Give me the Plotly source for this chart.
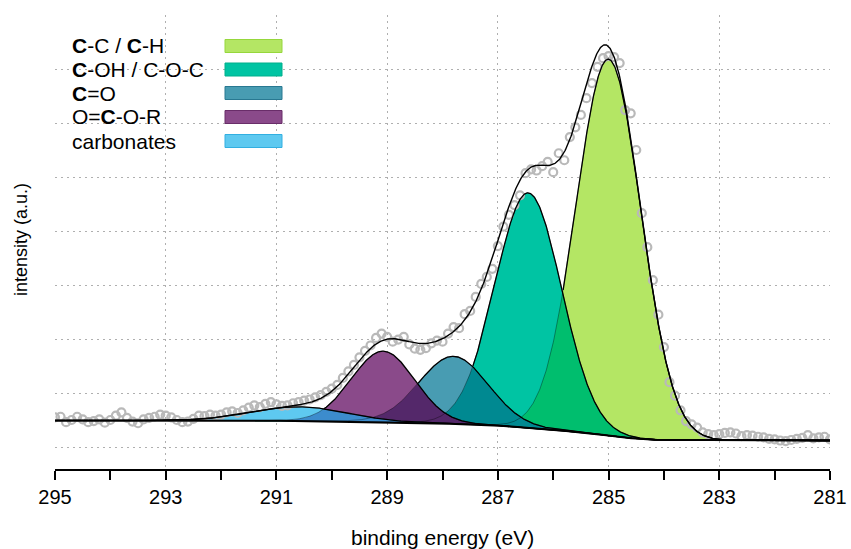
import numpy as np
import plotly.graph_objects as go

# ---------------- data ----------------
energy_start = 295.0
energy_step = -0.1
intensity = [
    0.55, 0.56, 0.46, 0.50, 0.56, 0.51, 0.46, 0.48, 0.51, 0.45,
    0.50, 0.58, 0.64, 0.54, 0.47, 0.44, 0.51, 0.54, 0.56, 0.60,
    0.58, 0.55, 0.50, 0.46, 0.47, 0.52, 0.58, 0.57, 0.60, 0.58,
    0.60, 0.64, 0.66, 0.63, 0.68, 0.73, 0.77, 0.74, 0.80, 0.83,
    0.79, 0.76, 0.77, 0.81, 0.83, 0.86, 0.88, 0.92, 0.96, 1.02,
    1.08, 1.15, 1.28, 1.40, 1.52, 1.66, 1.78, 1.88, 2.02, 2.10,
    2.04, 1.95, 1.99, 2.04, 1.90, 1.82, 1.80, 1.83, 1.92, 1.97,
    1.95, 2.10, 2.22, 2.20, 2.46, 2.52, 2.78, 3.02, 3.15, 3.30,
    3.72, 4.08, 4.30, 4.48, 4.66, 5.07, 5.14, 5.12, 5.20, 5.28,
    5.09, 5.44, 5.31, 5.74, 5.92, 6.15, 6.46, 6.74, 7.04, 7.20,
    7.24, 7.22, 7.11, 6.24, 6.18, 5.50, 4.33, 3.70, 3.09, 2.45,
    1.85, 1.20, 0.95, 0.68, 0.48, 0.42, 0.36, 0.27, 0.24, 0.22,
    0.24, 0.26, 0.27, 0.25, 0.20, 0.22, 0.21, 0.19, 0.18, 0.15,
    0.14, 0.12, 0.11, 0.13, 0.15, 0.17, 0.22, 0.16, 0.18, 0.19,
    0.14,
]
energy = np.round(energy_start + energy_step * np.arange(len(intensity)), 2)

peak_labels = ["<b>C</b>-C / <b>C</b>-H", "<b>C</b>-OH / C-O-C", "<b>C</b>=O",
               "O=<b>C</b>-O-R", "carbonates"]
peak_centers = [285.0, 286.45, 287.8, 289.07, 290.6]
peak_heights = [6.97, 4.35, 1.25, 1.31, 0.26]
peak_sigmas = [0.585, 0.60, 0.62, 0.57, 0.85]
bg_high_be = 0.49
bg_low_be = 0.12

x_ticks = [295, 293, 291, 289, 287, 285, 283, 281]

# ---------------- styles ----------------
fill_colors = ["rgb(180,230,100)", "rgb(0,196,163)", "rgb(72,156,178)",
               "rgb(138,74,138)", "rgb(94,201,240)"]
edge_colors = ["rgb(150,215,60)", "rgb(0,175,140)", "rgb(40,120,145)",
               "rgb(105,45,105)", "rgb(50,175,225)"]
overlap_colors = [None, "rgb(0,190,110)", "rgb(0,137,145)",
                  "rgb(84,40,106)", "rgb(60,140,205)"]

# ---------------- model curves ----------------
E = np.linspace(281.0, 295.0, 1401)
peaks = [h * np.exp(-(E - c) ** 2 / (2 * s ** 2))
         for c, h, s in zip(peak_centers, peak_heights, peak_sigmas)]
total = np.sum(peaks, axis=0)
cum = np.cumsum(total)
bg = bg_low_be + (bg_high_be - bg_low_be) * cum / cum[-1]
envelope = bg + total

fig = go.Figure()


def band(lower, upper, color):
    fig.add_trace(go.Scatter(
        x=np.concatenate([E, E[::-1]]),
        y=np.concatenate([upper, lower[::-1]]),
        fill="toself", fillcolor=color, mode="lines",
        line=dict(width=0), hoverinfo="skip", showlegend=False))


for i, p in enumerate(peaks):
    band(bg, bg + p, fill_colors[i])
    if i > 0:
        prev_max = np.max(peaks[:i], axis=0)
        band(bg, bg + np.minimum(p, prev_max), overlap_colors[i])

# faint hidden edges
for p in peaks:
    fig.add_trace(go.Scatter(x=E, y=bg + p, mode="lines",
                             line=dict(color="rgba(0,0,0,0.35)", width=1),
                             hoverinfo="skip", showlegend=False))

# measured data (open grey circles)
fig.add_trace(go.Scatter(x=energy, y=intensity, mode="markers",
                         marker=dict(symbol="circle-open", size=8,
                                     color="rgb(185,185,185)",
                                     line=dict(width=2.2, color="rgb(185,185,185)")),
                         showlegend=False))

# visible (uncovered) peak outlines
for i, p in enumerate(peaks):
    if i < len(peaks) - 1:
        later = np.max(peaks[i + 1:], axis=0)
        y = np.where(p >= later, bg + p, np.nan)
    else:
        y = bg + p
    fig.add_trace(go.Scatter(x=E, y=y, mode="lines",
                             line=dict(color="black", width=1.3),
                             connectgaps=False, hoverinfo="skip", showlegend=False))

fig.add_trace(go.Scatter(x=E, y=bg, mode="lines",
                         line=dict(color="black", width=2), showlegend=False))
fig.add_trace(go.Scatter(x=E, y=envelope, mode="lines",
                         line=dict(color="black", width=1.4), showlegend=False))

# ---------------- layout ----------------
L, R, T, B = 55, 830, 15, 469
W, H = 851, 549


def px_x(px):
    return (px - L) / (R - L)


def px_y(py):
    return (B - py) / (B - T)


regular = "Liberation Sans, Arial, sans-serif"

annotations = []
shapes = []
row_y = [46, 69.5, 93, 117, 141]
for i, lab in enumerate(peak_labels):
    annotations.append(dict(text=lab, xref="paper", yref="paper",
                            x=px_x(70), y=px_y(row_y[i]), xanchor="left",
                            yanchor="middle", showarrow=False,
                            font=dict(family=regular, size=21, color="black")))
    shapes.append(dict(type="rect", xref="paper", yref="paper",
                       x0=px_x(225), x1=px_x(282),
                       y0=px_y(row_y[i] + 6.5), y1=px_y(row_y[i] - 6.5),
                       fillcolor=fill_colors[i],
                       line=dict(color=edge_colors[i], width=1)))

annotations.append(dict(text="intensity (a.u.)", xref="paper", yref="paper",
                        x=px_x(21), y=px_y(240), textangle=-90,
                        xanchor="center", yanchor="middle", showarrow=False,
                        font=dict(family=regular, size=18, color="black")))
annotations.append(dict(text="binding energy (eV)", xref="paper", yref="paper",
                        x=px_x(442), y=px_y(537), xanchor="center",
                        yanchor="middle", showarrow=False,
                        font=dict(family=regular, size=21, color="black")))

y0_px = 447
unit_px = 54
grid_style = dict(showgrid=True, gridcolor="rgb(175,175,175)",
                  griddash="2px,4px", gridwidth=1)
fig.update_layout(
    width=W, height=H, autosize=False,
    margin=dict(l=L, r=W - R, t=T, b=H - B, autoexpand=False),
    paper_bgcolor="white", plot_bgcolor="white",
    showlegend=False,
    annotations=annotations, shapes=shapes,
    xaxis=dict(range=[295, 281], tickvals=x_ticks,
               ticktext=[str(t) for t in x_ticks], automargin=False,
               showline=True, linecolor="black", linewidth=1.5,
               ticks="outside", ticklen=9, tickwidth=1.5, tickcolor="black",
               minor=dict(dtick=1, tick0=281, ticks="outside", ticklen=9,
                          tickwidth=1.5, tickcolor="black", showgrid=False),
               tickfont=dict(family=regular, size=20, color="black"),
               zeroline=False, **grid_style),
    yaxis=dict(range=[-(B - y0_px) / unit_px, (y0_px - T) / unit_px],
               dtick=1, tick0=0, showticklabels=False, ticks="", automargin=False,
               zeroline=False, showline=False, **grid_style),
)

fig.write_html(
    "out.html",
    config={"responsive": False, "displayModeBar": False},
    post_script=("document.documentElement.style.overflow='hidden';"
                 "document.body.style.overflow='hidden';"
                 "document.body.style.margin='0';document.body.style.padding='0';"),
)
